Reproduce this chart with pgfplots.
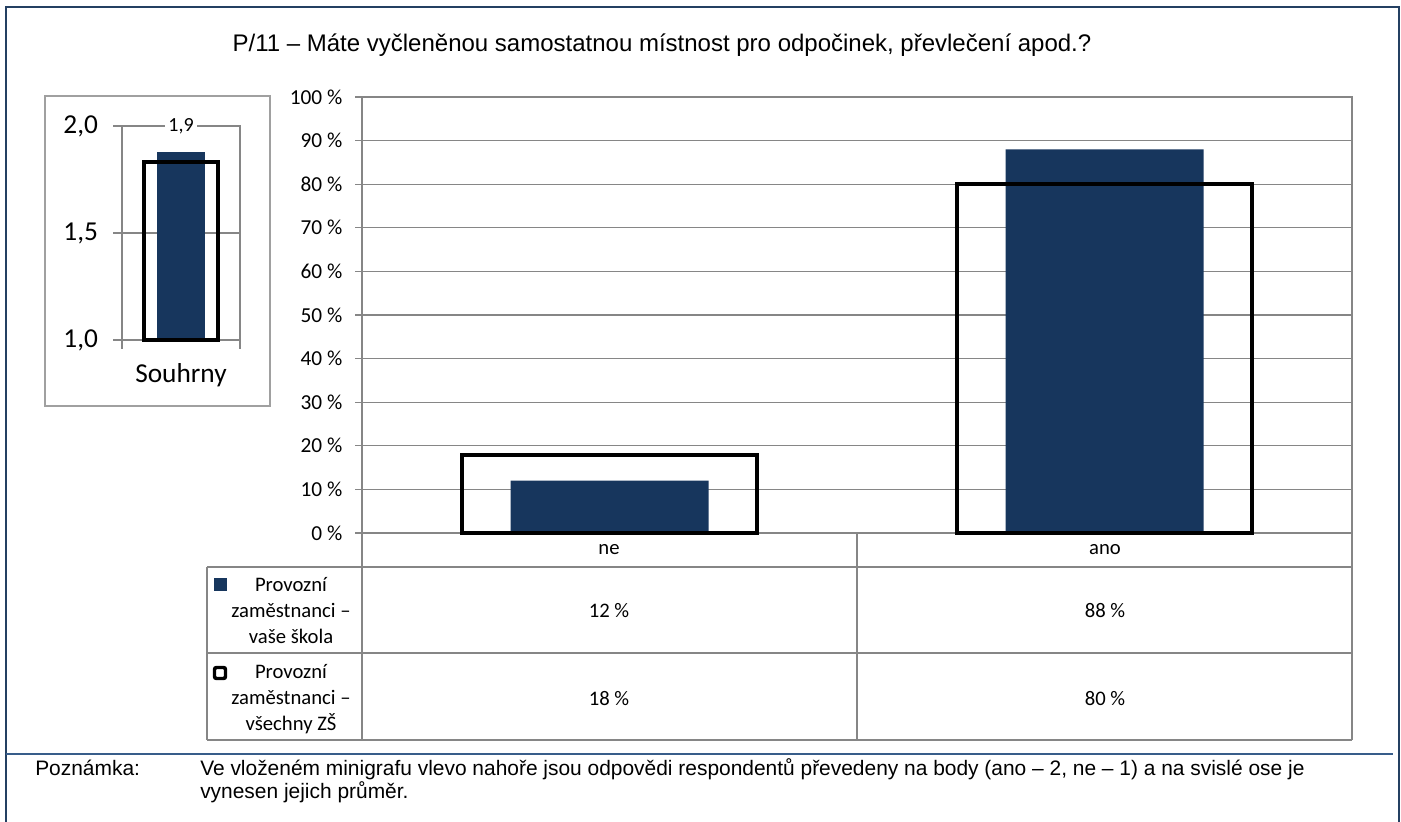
\documentclass[border=0pt]{standalone}
\usepackage{pgfplots}
\pgfplotsset{compat=1.18}
\usepackage{fontspec}
\setmainfont{Carlito}
\newfontfamily\arial{Liberation Sans}
\definecolor{barblue}{RGB}{23,54,93}
\definecolor{frameblue}{RGB}{36,64,98}
\definecolor{lineblue}{RGB}{56,93,138}
\definecolor{gridgray}{RGB}{134,134,134}
\definecolor{boxgray}{RGB}{160,160,160}
\begin{document}
\begin{tikzpicture}[x=0.75pt,y=0.75pt]
\path[use as bounding box] (0,0) rectangle (1401,821);
% outer frame and separator
\draw[frameblue,line width=1.5pt] (6,-10) -- (6,814) -- (1399,814) -- (1399,-10);
\draw[lineblue,line width=1.8pt] (6,67) -- (1393,67);
% title
\node[anchor=base,font=\arial\fontsize{18}{22}\selectfont] at (662,769) {P/11 – Máte vyčleněnou samostatnou místnost pro odpočinek, převlečení apod.?};

% mini chart box
\draw[boxgray,line width=1.1pt] (45,725) rectangle (270,415);

\begin{axis}[at={(91.5pt,360.75pt)}, anchor=south west, scale only axis,
  width=88.5pt, height=160.5pt,
  xmin=0, xmax=1, ymin=0, ymax=1,
  y filter/.expression={y-1},
  ytick={0,0.5,1}, yticklabels={{1,0},{1,5},{2,0}},
  xtick={0,1}, xticklabels={},
  ymajorgrids, grid style={gridgray,line width=0.8pt},
  axis line style={gridgray,line width=0.8pt},
  tick style={gridgray,line width=0.8pt},
  tick align=outside, major tick length=6.5pt,
  ytick pos=left, xtick pos=bottom,
  yticklabel style={font=\fontsize{20.5}{24}\selectfont, xshift=-8pt},
  clip=false]
\addplot[ybar, bar width=0.415, bar shift=0pt, fill=barblue, draw=none] coordinates {(0.5,1.88)};
\addplot[ybar, bar width=0.62, bar shift=0pt, draw=black, fill=none, line width=3pt] coordinates {(0.5,1.83)};
\node[fill=white, inner sep=2.5pt, font=\fontsize{15}{18}\selectfont] at (axis cs:0.5,1) {1,9};
\end{axis}
\node[font=\fontsize{20.5}{24}\selectfont] at (181,446) {Souhrny};

% main chart
\begin{axis}[at={(271.5pt,216pt)}, anchor=south west, scale only axis,
  width=742.5pt, height=327pt,
  xmin=0, xmax=2, ymin=0, ymax=100,
  ytick={0,10,...,100},
  yticklabels={0~\%,10~\%,20~\%,30~\%,40~\%,50~\%,60~\%,70~\%,80~\%,90~\%,100~\%},
  xtick=\empty,
  ymajorgrids, grid style={gridgray,line width=0.8pt},
  axis line style={gridgray,line width=0.8pt},
  tick style={gridgray,line width=0.8pt},
  tick align=outside, major tick length=5.25pt,
  ytick pos=left,
  yticklabel style={font=\fontsize{16}{19}\selectfont, xshift=-6pt},
  clip=false]
\addplot[ybar, bar width=0.4, bar shift=0pt, fill=barblue, draw=none] coordinates {(0.5,12) (1.5,88)};
\addplot[ybar, bar width=0.594, bar shift=0pt, draw=black, fill=none, line width=3pt] coordinates {(0.5,18) (1.5,80)};
\end{axis}

% data table
\draw[gridgray,line width=0.9pt] (207,254) -- (1352,254)
  (207,168) -- (1352,168)
  (207,81) -- (1352,81)
  (207,254) -- (207,81)
  (362,288) -- (362,81)
  (857,288) -- (857,81)
  (1352,288) -- (1352,81);
\begin{scope}[every node/.style={font=\fontsize{15.5}{19.5}\selectfont, align=center}]
\node at (609,271) {ne};
\node at (1105,271) {ano};
\node at (291,210) {Provozní\\zaměstnanci –\\vaše škola};
\node at (291,122) {Provozní\\zaměstnanci –\\všechny ZŠ};
\node at (609,210) {12 \%};
\node at (1105,210) {88 \%};
\node at (609,122) {18 \%};
\node at (1105,122) {80 \%};
\end{scope}
\fill[barblue] (214,243) rectangle (227,230);
\draw[black,line width=2.6pt,rounded corners=1.5pt] (214.5,153.5) rectangle (225.5,142.5);

% note
\begin{scope}[every node/.style={font=\arial\fontsize{15.7}{17}\selectfont, anchor=base west, inner sep=0pt}]
\node at (35,46) {Poznámka:};
\node at (200,46) {Ve vloženém minigrafu vlevo nahoře jsou odpovědi respondentů převedeny na body (ano – 2, ne – 1) a na svislé ose je};
\node at (200,23) {vynesen jejich průměr.};
\end{scope}
\end{tikzpicture}
\end{document}
